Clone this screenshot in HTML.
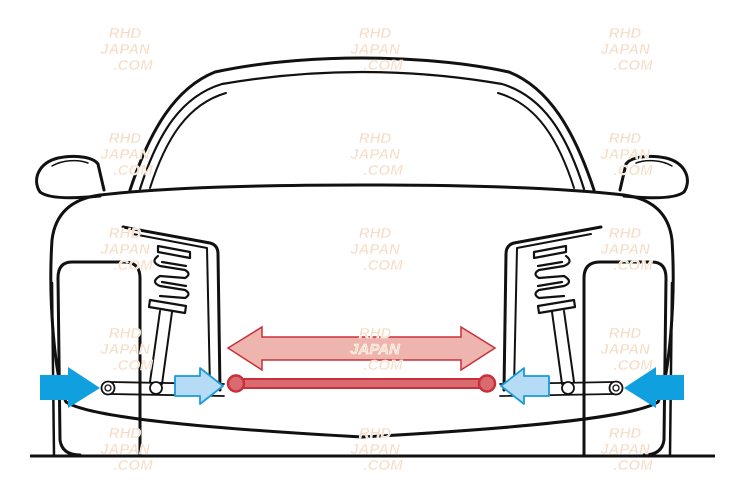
<!DOCTYPE html>
<html><head><meta charset="utf-8"><style>
html,body{margin:0;padding:0;background:#fff;width:743px;height:482px;overflow:hidden}
svg{display:block}
.wm{font-family:"Liberation Sans",sans-serif;font-weight:bold;font-style:italic;font-size:15px;fill:#f5dcc6;text-anchor:middle;stroke:#fff;stroke-width:0.5}
</style></head><body>
<svg width="743" height="482" viewBox="0 0 743 482" xmlns="http://www.w3.org/2000/svg">
<defs>
<g id="half" fill="none" stroke="#111" stroke-width="3" stroke-linecap="round" stroke-linejoin="round">
  <!-- roof / windshield -->
  <path d="M130,190 C150,130 175,88 215,72 C270,60 330,58 362,58"/>
  <path d="M140,189 C158,132 182,96 222,84 C280,74 330,72 362,72" stroke-width="2.2"/>
  <path d="M150,188 C166,138 188,104 226,93" stroke-width="2"/>
  <!-- mirror -->
  <path d="M100,196 C80,198 50,200 40,192 C32,180 38,163 58,158 C78,154 94,158 98,164 L104,190"/>
  <path d="M52,166 C62,160 78,159 88,163" stroke-width="1.5"/>
  <!-- body -->
  <path d="M362,185 C250,185 160,188 100,195 C70,199 55,215 52,240 C48,300 55,380 66,402 C85,414 160,426 362,437"/>
  <!-- wheel -->
  <path d="M140,455 L140,278 Q140,262 124,262 L72,262 Q58,262 58,278 L60,440 Q62,455 80,455"/>
  <path d="M52,283 L54,455" stroke-width="2.5"/>
  <!-- tower -->
  <path d="M123,227 L210,243 Q218,245 218,254 L220,390"/>
  <path d="M133,234 L207,248 L210,388" stroke-width="2"/>
  <!-- spring -->
  <g stroke-width="2.2">
   <path d="M158,246 L190,252 L190,258 L158,252 Z"/>
   <path d="M158,256 Q150,262 160,266 L185,270 Q192,274 185,278 L160,276 Q150,282 160,286 L185,290 Q192,294 185,298 L160,296" />
   <path d="M162,262 L186,266 M162,282 L186,286"/>
   <path d="M150,300 L186,306 L185,313 L149,307 Z"/>
  </g>
  <!-- strut -->
  <path d="M160,311 L150,382 M172,312 L162,384" stroke-width="2"/>
  <!-- arm -->
  <path d="M110,382 L224,384 M110,394 L224,396" stroke-width="1.8"/>
  <circle cx="108" cy="388" r="6.5" fill="#fff" stroke-width="1.8"/>
  <circle cx="108" cy="388" r="3" stroke-width="1.3"/>
  <circle cx="156" cy="388" r="6" fill="#fff" stroke-width="1.8"/>
  <!-- blue arrows -->
  <polygon points="40,375 68,375 68,367 100,388 68,408 68,400 40,400" fill="#109fdf" stroke="none"/>
  <polygon points="175,376 200,376 200,368 223,386 200,404 200,396 175,396" fill="#b5dcf4" stroke="#1a9ad9" stroke-width="1.8"/>
</g>
</defs>
<use href="#half"/>
<use href="#half" transform="translate(724,0) scale(-1,1)"/>
<!-- center shapes -->
<line x1="30" y1="456" x2="715" y2="456" stroke="#111" stroke-width="3"/>
<polygon points="228,348 262,327 262,337 461,337 461,327 495,348 461,370 461,360 262,360 262,370" fill="#eeb5ae" stroke="#c8303c" stroke-width="1.5"/>
<rect x="236" y="379" width="251" height="9" fill="#d96a6f" stroke="#c8303c" stroke-width="2"/>
<circle cx="236" cy="383.5" r="8" fill="#d96a6f" stroke="#c8303c" stroke-width="2.5"/>
<circle cx="487" cy="383.5" r="8" fill="#d96a6f" stroke="#c8303c" stroke-width="2.5"/>
<!-- watermarks -->
<g class="wm">
<g transform="translate(125,0)"><text y="38">RHD</text><text y="54">JAPAN</text><text x="8" y="70">.COM</text></g>
<g transform="translate(375,0)"><text y="38">RHD</text><text y="54">JAPAN</text><text x="8" y="70">.COM</text></g>
<g transform="translate(625,0)"><text y="38">RHD</text><text y="54">JAPAN</text><text x="8" y="70">.COM</text></g>
<g transform="translate(125,105)"><text y="38">RHD</text><text y="54">JAPAN</text><text x="8" y="70">.COM</text></g>
<g transform="translate(375,105)"><text y="38">RHD</text><text y="54">JAPAN</text><text x="8" y="70">.COM</text></g>
<g transform="translate(625,105)"><text y="38">RHD</text><text y="54">JAPAN</text><text x="8" y="70">.COM</text></g>
<g transform="translate(125,200)"><text y="38">RHD</text><text y="54">JAPAN</text><text x="8" y="70">.COM</text></g>
<g transform="translate(375,200)"><text y="38">RHD</text><text y="54">JAPAN</text><text x="8" y="70">.COM</text></g>
<g transform="translate(625,200)"><text y="38">RHD</text><text y="54">JAPAN</text><text x="8" y="70">.COM</text></g>
<g transform="translate(125,300)"><text y="38">RHD</text><text y="54">JAPAN</text><text x="8" y="70">.COM</text></g>
<g transform="translate(375,300)"><text y="38">RHD</text><text y="54">JAPAN</text><text x="8" y="70">.COM</text></g>
<g transform="translate(625,300)"><text y="38">RHD</text><text y="54">JAPAN</text><text x="8" y="70">.COM</text></g>
<g transform="translate(125,400)"><text y="38">RHD</text><text y="54">JAPAN</text><text x="8" y="70">.COM</text></g>
<g transform="translate(375,400)"><text y="38">RHD</text><text y="54">JAPAN</text><text x="8" y="70">.COM</text></g>
<g transform="translate(625,400)"><text y="38">RHD</text><text y="54">JAPAN</text><text x="8" y="70">.COM</text></g>
</g>
</svg>
</body></html>
